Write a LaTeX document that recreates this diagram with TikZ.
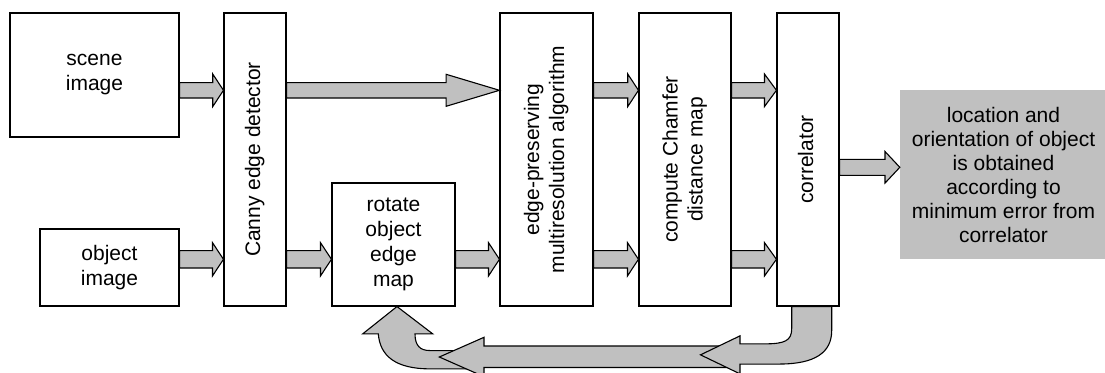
\documentclass[tikz,border=0pt]{standalone}
\usepackage{fontspec}
\setmainfont{Liberation Sans}
\usepackage{graphicx}
\usetikzlibrary{calc}
\definecolor{blockgray}{RGB}{192,192,192}
\tikzset{
  box/.style={draw, line width=1.1pt, fill=white, inner sep=0pt, align=center,
    font=\fontsize{21}{25}\selectfont},
  result/.style={fill=blockgray, inner sep=0pt, align=center,
    font=\fontsize{21}{24}\selectfont},
  blk/.style={draw, fill=blockgray, line width=1.1pt, line join=miter},
}
% rightward block arrow: from, to, shaft half-height, head half-height, head length
\newcommand\harrow[5]{%
  \filldraw[blk] let \p1=(#1), \p2=(#2) in
    (\x1,{\y1+#3pt}) -- ({\x2-#5pt},{\y1+#3pt}) -- ({\x2-#5pt},{\y1+#4pt})
    -- (\x2,\y1) -- ({\x2-#5pt},{\y1-#4pt}) -- ({\x2-#5pt},{\y1-#3pt})
    -- (\x1,{\y1-#3pt}) -- cycle;}
% vertical text set in stacked lines
\newcommand\vtext[1]{\rotatebox{90}{\begin{tabular}{@{}c@{}}#1\end{tabular}}}

\begin{document}
\begin{tikzpicture}[x=1pt,y=-1pt]
\useasboundingbox (0,0) rectangle (1105,372);
\clip (0,0) rectangle (1105,372);

% processing blocks
\node[box, minimum width=169pt, minimum height=124pt] (scene) at (94.5,75) {scene\\image};
\node[box, minimum width=139pt, minimum height=77pt] (object) at (109.5,267.5) {object\\image};
\node[box, minimum width=62pt, minimum height=293pt] (canny) at (255,159.5) {\vtext{Canny edge detector}};
\node[box, minimum width=123pt, minimum height=123pt] (rotate) at (393.5,244.5) {rotate\\object\\edge\\map};
\node[box, minimum width=93pt, minimum height=293pt] (edge) at (546.5,159.5)
  {\vtext{edge-preserving\\multiresolution algorithm}};
\node[box, minimum width=92pt, minimum height=293pt] (chamfer) at (685,159.5)
  {\vtext{compute Chamfer\\distance map}};
\node[box, minimum width=62pt, minimum height=293pt] (corr) at (808,159.5) {\vtext{correlator}};
\node[result, minimum width=207pt, minimum height=169pt] (result) at (1003.5,174.5)
  {location and\\orientation of object\\is obtained\\according to\\minimum error from\\correlator};

% arrow rows
\coordinate (rowA) at (0,90.3);
\coordinate (rowB) at (0,259.3);
\coordinate (rowC) at (0,167.3);

\harrow{scene.east |- rowA}{canny.west |- rowA}{7.7}{16.3}{10.7}
\harrow{canny.east |- rowA}{edge.west |- rowA}{7.7}{16}{53.3}
\harrow{object.east |- rowB}{canny.west |- rowB}{8.7}{16.7}{11}
\harrow{canny.east |- rowB}{rotate.west |- rowB}{8.7}{16.7}{11}
\harrow{rotate.east |- rowB}{edge.west |- rowB}{8.7}{16.7}{11}
\harrow{edge.east |- rowA}{chamfer.west |- rowA}{7.7}{16.3}{10.7}
\harrow{edge.east |- rowB}{chamfer.west |- rowB}{8.7}{16.7}{11}
\harrow{chamfer.east |- rowA}{corr.west |- rowA}{7.7}{16.3}{12}
\harrow{chamfer.east |- rowB}{corr.west |- rowB}{8.7}{16.7}{12}
\harrow{corr.east |- rowC}{result.west |- rowC}{8}{15.8}{14.8}

% feedback loop: correlator back to the rotation block
\coordinate (upTip) at ([xshift=3.5pt]rotate.south);
\coordinate (fbTip) at (439.3,357);
\coordinate (corrOut) at ([xshift=-16.3pt]corr.south);

\begin{scope}[shift={(upTip)}]
  \filldraw[blk] (0,0) -- (35.7,27.3) -- (18,27.3)
    .. controls (18,39) and (23,44) .. (33,44) -- (73,44) -- (73,62.3) -- (33,62.3)
    .. controls (-2,62.3) and (-17,49) .. (-18.7,27.3) -- (-34.3,27.3) -- cycle;
\end{scope}

\filldraw[blk] (fbTip) -- ++(44.7,-19.7) -- ++(0,8.7) -- ++(251,0) -- ++(0,21.5)
  -- ++(-251,0) -- ++(0,9.2) -- cycle;

\begin{scope}[shift={(corrOut)}]
  \filldraw[blk] (0,0) -- (0,22) .. controls (0,34) and (-6.7,37.3) .. (-26.7,37.3)
    -- (-51.7,37.3) -- (-51.7,29.3) -- (-91.2,48.3) -- (-51.7,67.3) -- (-51.7,57.5)
    -- (-11.7,57.5) .. controls (23.3,57.3) and (40,46) .. (40,24) -- (40,0) -- cycle;
\end{scope}
\end{tikzpicture}
\end{document}
